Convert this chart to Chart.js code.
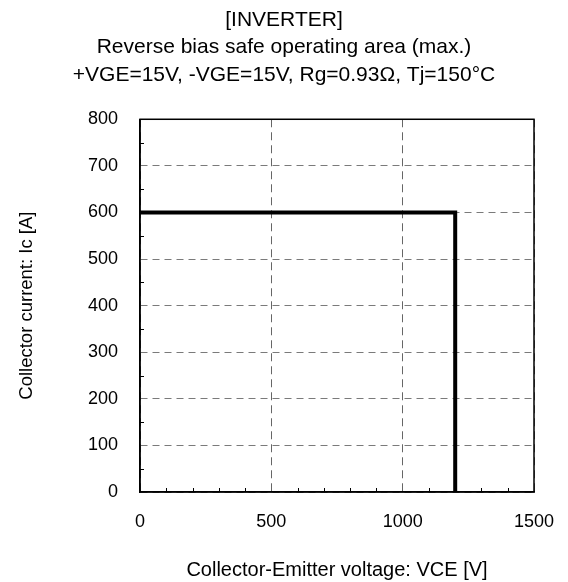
<!DOCTYPE html>
<html>
<head>
<meta charset="utf-8">
<script src="https://cdn.jsdelivr.net/npm/chart.js@4/dist/chart.umd.min.js"></script>
<style>
  html, body { margin: 0; padding: 0; background: #fff; }
  #wrap { width: 568px; height: 582px; }
</style>
</head>
<body>
<div id="wrap"><canvas id="rbsoa"></canvas></div>
<script>
// ── datos ──
const vceData = [0, 1200, 1200];
const icData = [600, 600, 0];
const xTickVals = [0, 500, 1000, 1500];
const yTickVals = [0, 100, 200, 300, 400, 500, 600, 700, 800];
const xMinor = [100, 200, 300, 400, 600, 700, 800, 900, 1100, 1200, 1300, 1400];
const yMinor = [50, 150, 250, 350, 450, 550, 650, 750];

const FONT = "'Liberation Sans', Arial, sans-serif";

// marco negro + ticks menores hacia dentro
const marcoPlugin = {
  id: 'marco',
  afterDatasetsDraw(chart) {
    const { ctx, chartArea: a, scales: { x, y } } = chart;
    ctx.save();
    ctx.strokeStyle = '#000';
    ctx.lineWidth = 1.5;
    ctx.strokeRect(a.left, a.top, a.right - a.left, a.bottom - a.top);
    ctx.lineWidth = 1;
    ctx.beginPath();
    xMinor.forEach(v => {
      const px = Math.round(x.getPixelForValue(v)) + 0.5;
      ctx.moveTo(px, a.bottom);
      ctx.lineTo(px, a.bottom - 4);
    });
    yMinor.forEach(v => {
      const py = Math.round(y.getPixelForValue(v)) + 0.5;
      ctx.moveTo(a.left, py);
      ctx.lineTo(a.left + 4, py);
    });
    ctx.stroke();
    ctx.restore();
  }
};

new Chart(document.getElementById('rbsoa'), {
  type: 'line',
  data: {
    datasets: [{
      data: vceData.map((v, i) => ({ x: v, y: icData[i] })),
      borderColor: '#000',
      borderWidth: 4,
      pointRadius: 0,
      tension: 0,
      fill: false,
      clip: false
    }]
  },
  options: {
    responsive: true,
    maintainAspectRatio: false,
    animation: false,
    layout: { padding: 0 },
    plugins: {
      legend: { display: false },
      tooltip: { enabled: false },
      title: {
        display: true,
        text: ['[INVERTER]', 'Reverse bias safe operating area (max.)'],
        color: '#000',
        font: { family: FONT, size: 21, weight: 'normal', lineHeight: 1.29 },
        padding: { top: 7, bottom: 0 }
      },
      subtitle: {
        display: true,
        text: '+VGE=15V, -VGE=15V, Rg=0.93Ω, Tj=150°C',
        color: '#000',
        font: { family: FONT, size: 21, weight: 'normal', lineHeight: 1.29 },
        padding: { top: 0, bottom: 31 }
      }
    },
    scales: {
      x: {
        type: 'linear',
        min: 0,
        max: 1500,
        afterBuildTicks: s => { s.ticks = xTickVals.map(v => ({ value: v })); },
        afterFit: s => { s.height = 90; s.paddingRight = 0; s.paddingLeft = 0; },
        ticks: {
          color: '#000',
          font: { family: FONT, size: 18 },
          padding: 19,
          maxRotation: 0,
          callback: v => String(v)
        },
        grid: { color: '#666', lineWidth: 1, drawTicks: false },
        border: { display: true, color: '#000', width: 1.5, dash: [8, 5] },
        title: {
          display: true,
          text: 'Collector-Emitter voltage: VCE [V]',
          color: '#000',
          font: { family: FONT, size: 20 },
          padding: { top: 0, bottom: 0 }
        }
      },
      y: {
        type: 'linear',
        min: 0,
        max: 800,
        afterBuildTicks: s => { s.ticks = yTickVals.map(v => ({ value: v })); },
        afterFit: s => { s.width = 140; },
        ticks: {
          color: '#000',
          font: { family: FONT, size: 18 },
          padding: 22,
          callback: v => String(v)
        },
        grid: { color: '#7a7a7a', lineWidth: 1, drawTicks: false },
        border: { display: true, color: '#000', width: 1.5, dash: [7, 5] },
        title: {
          display: true,
          text: 'Collector current: Ic [A]',
          color: '#000',
          font: { family: FONT, size: 18.5 },
          padding: { top: 16, bottom: 0 }
        }
      },
      // eje vacío a la derecha solo para reservar el margen
      yR: {
        type: 'linear',
        position: 'right',
        display: true,
        min: 0,
        max: 800,
        afterFit: s => { s.width = 34; },
        ticks: { display: false },
        grid: { display: false, drawOnChartArea: false },
        border: { display: false }
      }
    }
  },
  plugins: [marcoPlugin]
});
</script>
</body>
</html>
